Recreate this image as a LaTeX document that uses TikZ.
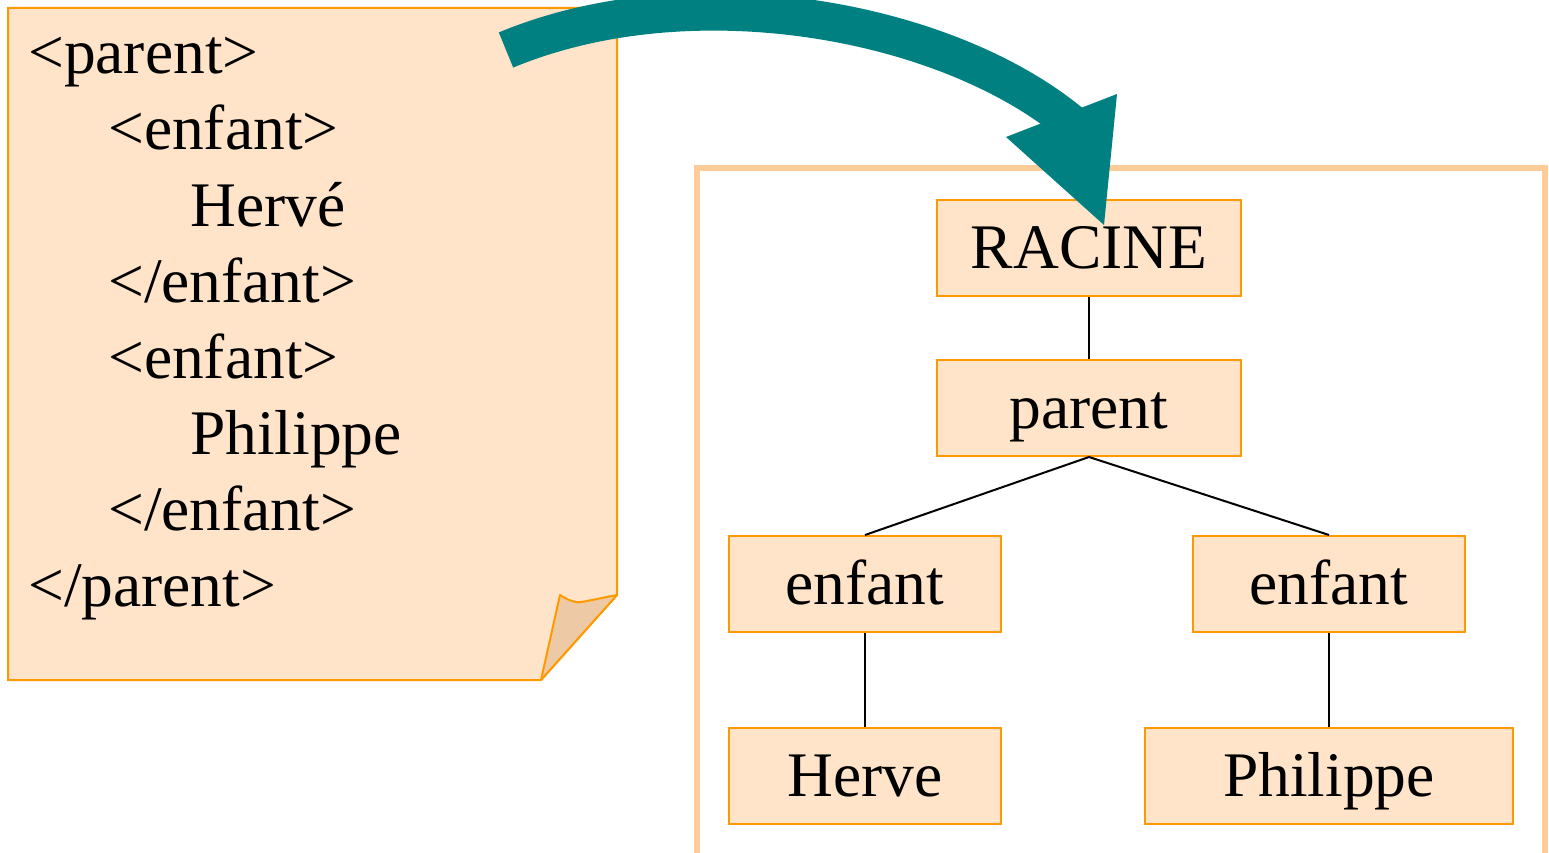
\documentclass[tikz,border=0pt]{standalone}
\usepackage{fontspec}
\setmainfont{Liberation Serif}
\definecolor{peach}{HTML}{FFE4C9}
\definecolor{edgeorange}{HTML}{FF9900}
\definecolor{framecol}{HTML}{FFCC99}
\definecolor{flapcol}{HTML}{EDC9A6}
\definecolor{arrowteal}{HTML}{008080}
\tikzset{
  treebox/.style={draw=edgeorange, fill=peach, line width=2pt, inner sep=0pt,
    minimum height=96pt, text height=40pt, text depth=0pt,
    font=\fontsize{63.5}{76}\selectfont},
  codeline/.style={anchor=base west, inner sep=0pt, font=\fontsize{63.5}{76}\selectfont},
  treeedge/.style={draw=black, line width=2pt},
}
\begin{document}
\begin{tikzpicture}[x=1pt, y=-1pt]
\useasboundingbox (0,0) rectangle (1549,853);

% sticky note with the XML source
\filldraw[fill=peach, draw=edgeorange, line width=2pt, line join=miter]
  (8,8) -- (617,8) -- (617,595) -- (541,680) -- (8,680) -- cycle;
\filldraw[fill=flapcol, draw=edgeorange, line width=2pt, line join=round]
  (541,680) -- (560,595) .. controls (568,600) and (574,603) .. (582,602)
  -- (617,595) -- cycle;

\node[codeline] (l1) at (28,74)  {<parent>};
\node[codeline] (l2) at (108,150) {<enfant>};
\node[codeline] (l3) at (190,226) {Hervé};
\node[codeline] (l4) at (108,302) {</enfant>};
\node[codeline] (l5) at (108,378) {<enfant>};
\node[codeline] (l6) at (190,454) {Philippe};
\node[codeline] (l7) at (108,530) {</enfant>};
\node[codeline] (l8) at (28,606)  {</parent>};

% frame around the tree
\draw[framecol, line width=6pt, line join=miter]
  (697,853) -- (697,168) -- (1545,168) -- (1545,853);

% tree nodes
\node[treebox, minimum width=304pt] (racine) at (1089,248) {RACINE};
\node[treebox, minimum width=304pt] (parent) at (1089,408) {parent};
\node[treebox, minimum width=272pt] (enfA) at (865,584) {enfant};
\node[treebox, minimum width=272pt] (enfB) at (1329,584) {enfant};
\node[treebox, minimum width=272pt] (herve) at (865,776) {Herve};
\node[treebox, minimum width=368pt] (philippe) at (1329,776) {Philippe};

\path[treeedge] (racine.south) -- (parent.north);
\path[treeedge] (parent.south) -- (enfA.north);
\path[treeedge] (parent.south) -- (enfB.north);
\path[treeedge] (enfA.south) -- (herve.north);
\path[treeedge] (enfB.south) -- (philippe.north);

% big curved arrow from the source to the tree
\coordinate (arrowtail) at (506,50);
\coordinate (arrowneck) at (1072,124);
\coordinate (headL) at (1006,137);
\coordinate (headR) at (1117,94);
\coordinate (headtip) at (1104,225);
\draw[arrowteal, line width=38pt, line cap=butt]
  (arrowtail) .. controls (691,-27) and (946,19) .. (arrowneck);
\fill[arrowteal] (headL) -- (headR) -- (headtip) -- cycle;
\end{tikzpicture}
\end{document}
